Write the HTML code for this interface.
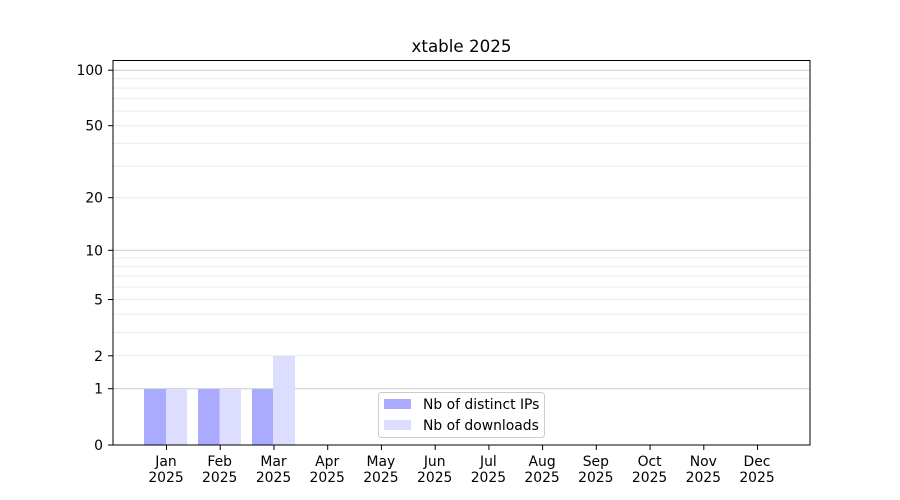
<!DOCTYPE html>
<html><head><meta charset="utf-8"><style>
html,body{margin:0;padding:0;background:#fff;}
svg{display:block;font-family:"DejaVu Sans","Liberation Sans",sans-serif;}
</style></head><body>
<svg width="900" height="500" viewBox="0 0 900 500" xmlns="http://www.w3.org/2000/svg">
<rect width="900" height="500" fill="#fff"/>
<text x="461.5" y="52" font-size="16.7" text-anchor="middle" fill="#000">xtable 2025</text>
<g stroke="#ebebeb" stroke-width="1">
<line x1="113" x2="810" y1="355.8" y2="355.8"/>
<line x1="113" x2="810" y1="332.4" y2="332.4"/>
<line x1="113" x2="810" y1="314.3" y2="314.3"/>
<line x1="113" x2="810" y1="299.5" y2="299.5"/>
<line x1="113" x2="810" y1="287" y2="287"/>
<line x1="113" x2="810" y1="276.1" y2="276.1"/>
<line x1="113" x2="810" y1="266.6" y2="266.6"/>
<line x1="113" x2="810" y1="258" y2="258"/>
<line x1="113" x2="810" y1="197.7" y2="197.7"/>
<line x1="113" x2="810" y1="166.1" y2="166.1"/>
<line x1="113" x2="810" y1="143.4" y2="143.4"/>
<line x1="113" x2="810" y1="125.7" y2="125.7"/>
<line x1="113" x2="810" y1="111.1" y2="111.1"/>
<line x1="113" x2="810" y1="98.8" y2="98.8"/>
<line x1="113" x2="810" y1="88.1" y2="88.1"/>
<line x1="113" x2="810" y1="78.7" y2="78.7"/>
</g>
<g stroke="#cccccc" stroke-width="1">
<line x1="113" x2="810" y1="388.7" y2="388.7"/>
<line x1="113" x2="810" y1="250.3" y2="250.3"/>
<line x1="113" x2="810" y1="70.2" y2="70.2"/>
</g>
<g>
<rect x="144" y="389" width="22" height="56" fill="#aaaaff"/>
<rect x="166" y="389" width="21" height="56" fill="#ddddff"/>
<rect x="198" y="389" width="21.5" height="56" fill="#aaaaff"/>
<rect x="219.5" y="389" width="21.5" height="56" fill="#ddddff"/>
<rect x="252" y="389" width="21" height="56" fill="#aaaaff"/>
<rect x="273" y="356" width="22" height="89" fill="#ddddff"/>
</g>
<rect x="113" y="60.5" width="697" height="384.5" fill="none" stroke="#000" stroke-width="1"/>
<g stroke="#000" stroke-width="1">
<line x1="108" x2="113" y1="445" y2="445"/>
<line x1="108" x2="113" y1="388.7" y2="388.7"/>
<line x1="108" x2="113" y1="355.8" y2="355.8"/>
<line x1="108" x2="113" y1="299.5" y2="299.5"/>
<line x1="108" x2="113" y1="250.3" y2="250.3"/>
<line x1="108" x2="113" y1="197.7" y2="197.7"/>
<line x1="108" x2="113" y1="125.7" y2="125.7"/>
<line x1="108" x2="113" y1="70.2" y2="70.2"/>
</g>
<g font-size="13.9" text-anchor="end" fill="#000">
<text x="103" y="450">0</text>
<text x="103" y="393.7">1</text>
<text x="103" y="360.8">2</text>
<text x="103" y="304.5">5</text>
<text x="103" y="255.3">10</text>
<text x="103" y="202.7">20</text>
<text x="103" y="130.7">50</text>
<text x="103" y="75.2">100</text>
</g>
<g stroke="#000" stroke-width="1">
<line x1="166.5" x2="166.5" y1="445" y2="450"/>
<line x1="220.2" x2="220.2" y1="445" y2="450"/>
<line x1="274" x2="274" y1="445" y2="450"/>
<line x1="327.7" x2="327.7" y1="445" y2="450"/>
<line x1="381.4" x2="381.4" y1="445" y2="450"/>
<line x1="435.2" x2="435.2" y1="445" y2="450"/>
<line x1="488.9" x2="488.9" y1="445" y2="450"/>
<line x1="542.6" x2="542.6" y1="445" y2="450"/>
<line x1="596.3" x2="596.3" y1="445" y2="450"/>
<line x1="650.1" x2="650.1" y1="445" y2="450"/>
<line x1="703.8" x2="703.8" y1="445" y2="450"/>
<line x1="757.5" x2="757.5" y1="445" y2="450"/>
</g>
<g font-size="13.9" text-anchor="middle" fill="#000">
<text x="166" y="466">Jan</text><text x="166" y="482">2025</text>
<text x="219.7" y="466">Feb</text><text x="219.7" y="482">2025</text>
<text x="273.5" y="466">Mar</text><text x="273.5" y="482">2025</text>
<text x="327.2" y="466">Apr</text><text x="327.2" y="482">2025</text>
<text x="380.9" y="466">May</text><text x="380.9" y="482">2025</text>
<text x="434.7" y="466">Jun</text><text x="434.7" y="482">2025</text>
<text x="488.4" y="466">Jul</text><text x="488.4" y="482">2025</text>
<text x="542.1" y="466">Aug</text><text x="542.1" y="482">2025</text>
<text x="595.8" y="466">Sep</text><text x="595.8" y="482">2025</text>
<text x="649.6" y="466">Oct</text><text x="649.6" y="482">2025</text>
<text x="703.3" y="466">Nov</text><text x="703.3" y="482">2025</text>
<text x="757" y="466">Dec</text><text x="757" y="482">2025</text>
</g>
<rect x="378.5" y="392.5" width="166" height="45" rx="3" fill="#fff" fill-opacity="0.8" stroke="#cccccc"/>
<rect x="384" y="399" width="27" height="10" fill="#aaaaff"/>
<rect x="384" y="420" width="27" height="10" fill="#ddddff"/>
<g font-size="13.9" fill="#000">
<text x="423" y="409">Nb of distinct IPs</text>
<text x="423" y="430">Nb of downloads</text>
</g>
</svg>
</body></html>
